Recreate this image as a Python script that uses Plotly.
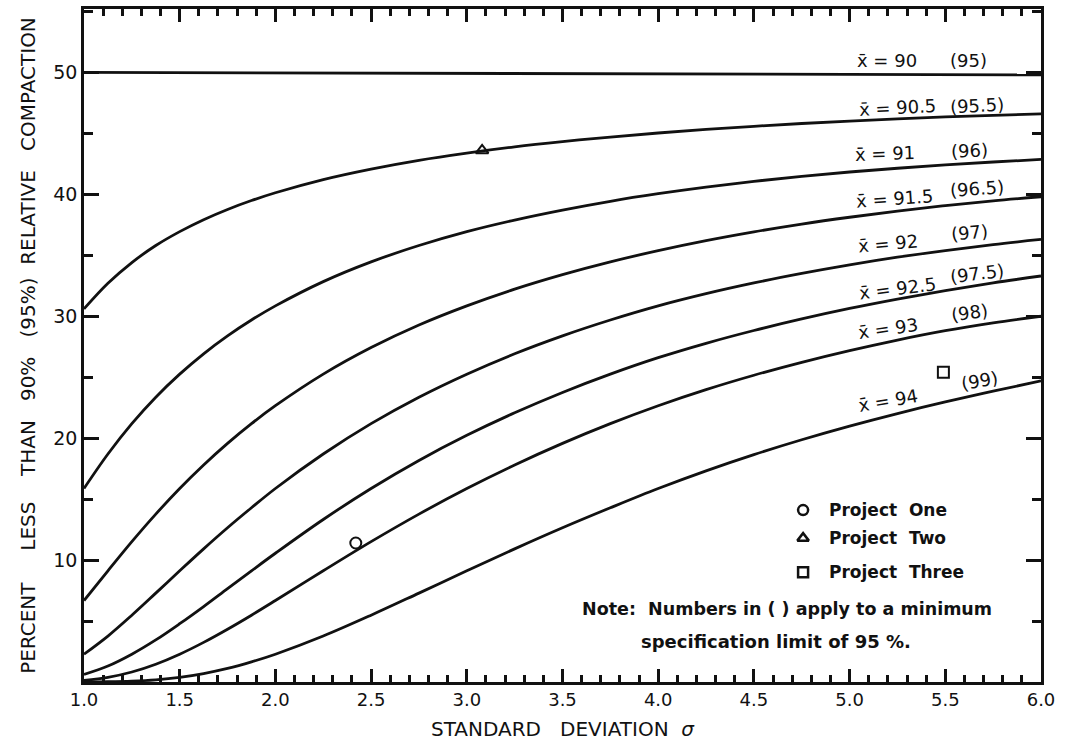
import plotly.graph_objects as go

# sigma sample points
sigma = [1.0, 1.125, 1.25, 1.375, 1.5, 1.625, 1.75, 1.875, 2.0, 2.25, 2.5, 2.75, 3.0,
         3.25, 3.5, 3.75, 4.0, 4.25, 4.5, 4.75, 5.0, 5.25, 5.5, 5.75, 6.0]

# mean 90 line (nearly flat)
sigma90 = [1.0, 6.0]
c90 = [50.0, 49.8]

# percent less than 90% (95%) for each mean
c90_5 = [30.6, 32.7, 34.4, 35.8, 36.94, 37.92, 38.76, 39.49, 40.13, 41.21, 42.07, 42.79, 43.38,
         43.89, 44.32, 44.70, 45.03, 45.32, 45.58, 45.81, 46.01, 46.19, 46.35, 46.48, 46.60]
c91   = [15.87, 18.70, 21.19, 23.36, 25.25, 26.92, 28.39, 29.69, 30.85, 32.84, 34.46, 35.80, 36.94,
         37.89, 38.71, 39.43, 40.05, 40.59, 41.06, 41.47, 41.83, 42.14, 42.41, 42.65, 42.86]
c91_5 = [6.68, 9.12, 11.51, 13.77, 15.87, 17.80, 19.57, 21.19, 22.66, 25.25, 27.43, 29.28, 30.85,
         32.22, 33.41, 34.46, 35.38, 36.20, 36.92, 37.56, 38.12, 38.62, 39.07, 39.47, 39.80]
c92   = [2.28, 3.77, 5.48, 7.29, 9.12, 10.92, 12.65, 14.29, 15.87, 18.70, 21.19, 23.36, 25.25,
         26.92, 28.39, 29.69, 30.85, 31.85, 32.73, 33.51, 34.21, 34.84, 35.39, 35.88, 36.30]
c92_5 = [0.62, 1.31, 2.28, 3.45, 4.78, 6.19, 7.66, 9.12, 10.56, 13.33, 15.87, 18.17, 20.23,
         22.08, 23.75, 25.25, 26.60, 27.78, 28.83, 29.78, 30.64, 31.41, 32.11, 32.74, 33.30]
c93   = [0.13, 0.38, 0.82, 1.46, 2.28, 3.25, 4.33, 5.48, 6.68, 9.12, 11.51, 13.77, 15.87,
         17.80, 19.57, 21.19, 22.66, 23.98, 25.16, 26.22, 27.18, 28.05, 28.82, 29.46, 30.00]
c94   = [0.0, 0.02, 0.07, 0.18, 0.38, 0.69, 1.11, 1.65, 2.28, 3.77, 5.48, 7.29, 9.12,
         10.92, 12.65, 14.29, 15.87, 17.32, 18.65, 19.87, 20.99, 22.02, 22.97, 23.85, 24.70]

curves = [c90_5, c91, c91_5, c92, c92_5, c93, c94]

# curve labels
mean_labels = ["x\u0304 = 90", "x\u0304 = 90.5", "x\u0304 = 91", "x\u0304 = 91.5",
               "x\u0304 = 92", "x\u0304 = 92.5", "x\u0304 = 93", "x\u0304 = 94"]
alt_labels = ["(95)", "(95.5)", "(96)", "(96.5)", "(97)", "(97.5)", "(98)", "(99)"]
mean_lab_x = [5.195, 5.248, 5.185, 5.237, 5.20, 5.248, 5.20, 5.20]
mean_lab_y = [50.98, 47.13, 43.36, 39.67, 35.98, 32.3, 29.02, 23.11]
alt_lab_x = [5.619, 5.666, 5.624, 5.666, 5.624, 5.666, 5.629, 5.681]
alt_lab_y = [50.98, 47.3, 43.61, 40.49, 36.89, 33.52, 30.33, 24.75]
lab_angle = [0, -3, -2, -4, -5, -7, -8, -10]

# projects
proj_names = ["Project One", "Project Two", "Project Three"]
proj_x = [2.42, 3.08, 5.49]
proj_y = [11.4, 43.6, 25.4]
proj_sym = ["circle-open", "triangle-up-open", "square-open"]

x_ticks = [1.0, 1.5, 2.0, 2.5, 3.0, 3.5, 4.0, 4.5, 5.0, 5.5, 6.0]
x_tick_text = ["1.0", "1.5", "2.0", "2.5", "3.0", "3.5", "4.0", "4.5", "5.0", "5.5", "6.0"]
y_ticks = [10, 20, 30, 40, 50]

FONT = "DejaVu Sans"
INK = "#111"
NB = "\u00a0"

fig = go.Figure()
fig.add_trace(go.Scatter(x=sigma90, y=c90, mode="lines",
                         line=dict(color=INK, width=2.8),
                         showlegend=False, hoverinfo="skip"))
for c in curves:
    fig.add_trace(go.Scatter(x=sigma, y=c, mode="lines",
                             line=dict(color=INK, width=2.8, shape="spline", smoothing=1.0),
                             showlegend=False, hoverinfo="skip"))

for i in range(3):
    fig.add_trace(go.Scatter(x=[proj_x[i]], y=[proj_y[i]], mode="markers",
                             marker=dict(symbol=proj_sym[i], size=11, color=INK,
                                         line=dict(width=2, color=INK)),
                             showlegend=False))

ann = []
for i in range(len(mean_labels)):
    ann.append(dict(x=mean_lab_x[i], y=mean_lab_y[i], text=mean_labels[i], showarrow=False,
                    textangle=lab_angle[i], font=dict(family=FONT, size=18, color=INK),
                    xanchor="center", yanchor="middle"))
    ann.append(dict(x=alt_lab_x[i], y=alt_lab_y[i], text=alt_labels[i], showarrow=False,
                    textangle=lab_angle[i], font=dict(family=FONT, size=18, color=INK),
                    xanchor="center", yanchor="middle"))

# legend block (symbols as markers, names as text)
leg_sym_x = 4.757
leg_text_x = 4.882
leg_y = [14.1, 11.8, 9.0]
fig.add_trace(go.Scatter(x=[leg_sym_x] * 3, y=leg_y, mode="markers",
                         marker=dict(symbol=proj_sym, size=10, color=INK,
                                     line=dict(width=2.5, color=INK)),
                         showlegend=False, hoverinfo="skip"))
for i in range(3):
    ann.append(dict(x=leg_text_x, y=leg_y[i], text="<b>" + proj_names[i].replace(" ", NB * 2) + "</b>",
                    showarrow=False, xanchor="left", yanchor="middle",
                    font=dict(family=FONT, size=17, color=INK)))
ann.append(dict(x=4.673, y=5.98, text="<b>Note:" + NB * 2 + "Numbers in ( ) apply to a minimum</b>",
                showarrow=False, xanchor="center", yanchor="middle",
                font=dict(family=FONT, size=17.5, color=INK)))
ann.append(dict(x=4.615, y=3.36, text="<b>specification limit of 95 %.</b>",
                showarrow=False, xanchor="center", yanchor="middle",
                font=dict(family=FONT, size=18, color=INK)))

ytitle = ("PERCENT" + NB * 5 + "LESS" + NB * 4 + "THAN" + NB * 3 + "90%" + NB * 3 +
          "(95%)" + NB * 2 + "RELATIVE" + NB * 3 + "COMPACTION")
xtitle = "STANDARD" + NB * 3 + "DEVIATION" + NB * 2 + "<i>\u03c3</i>"

fig.update_layout(
    width=1069, height=741,
    margin=dict(l=84, r=28, t=9, b=59),
    paper_bgcolor="white", plot_bgcolor="white",
    annotations=ann,
    xaxis=dict(range=[1.0, 6.0], tickvals=x_ticks, ticktext=x_tick_text,
               ticks="inside", ticklen=13, tickwidth=2.5, tickcolor=INK,
               minor=dict(dtick=0.1, ticks="inside", ticklen=7, tickwidth=2.5, tickcolor=INK),
               showline=True, linewidth=2.5, linecolor=INK, mirror="ticks",
               showgrid=False, zeroline=False, automargin=False,
               tickfont=dict(family=FONT, size=18, color=INK),
               title=dict(text=xtitle, font=dict(family=FONT, size=20, color=INK), standoff=20)),
    yaxis=dict(range=[0, 55.2], tickvals=y_ticks,
               ticks="inside", ticklen=15, tickwidth=2.5, tickcolor=INK,
               minor=dict(dtick=5, ticks="inside", ticklen=9, tickwidth=2.5, tickcolor=INK),
               showline=True, linewidth=2.5, linecolor=INK, mirror="ticks",
               showgrid=False, zeroline=False, automargin=False,
               tickfont=dict(family=FONT, size=19, color=INK),
               title=dict(text=ytitle, font=dict(family=FONT, size=20, color=INK), standoff=13)),
)

fig.write_html("out.html")
